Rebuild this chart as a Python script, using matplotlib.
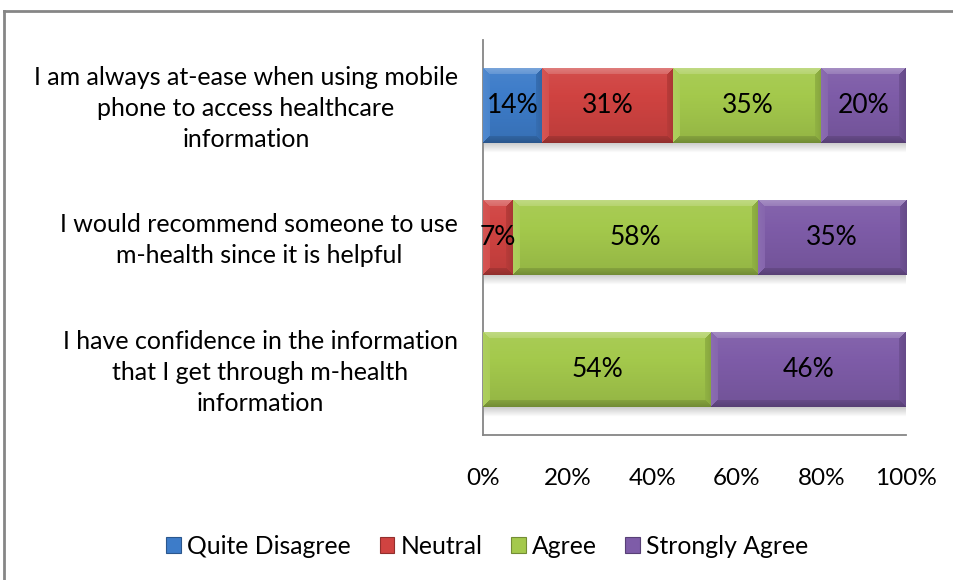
import numpy as np
import matplotlib
matplotlib.use("Agg")
import matplotlib.pyplot as plt
import matplotlib.transforms as mtransforms
from matplotlib.patches import Patch
from matplotlib.lines import Line2D
from matplotlib.colors import to_rgb

# ---- data -------------------------------------------------------------
categories = [
    "I am always at-ease when using mobile\nphone to access healthcare\ninformation",
    "I would recommend someone to use\nm-health since it is helpful",
    "I have confidence in the information\nthat I get through m-health\ninformation",
]
series_names = ["Quite Disagree", "Neutral", "Agree", "Strongly Agree"]
quite_disagree = [14, 0, 0]
neutral = [31, 7, 0]
agree = [35, 58, 54]
strongly_agree = [20, 35, 46]
x_ticks = [0, 20, 40, 60, 80, 100]
x_tick_labels = ["0%", "20%", "40%", "60%", "80%", "100%"]

series_values = [quite_disagree, neutral, agree, strongly_agree]
colors = ["#3D7CC9", "#D04341", "#A4C94C", "#7E5CA8"]

plt.rcParams["font.family"] = ["Lato", "DejaVu Sans"]
FS_CAT = 18
FS_TICK = 17.5
FS_VAL = 19
FS_LEG = 17.8

fig = plt.figure(figsize=(9.54, 5.8), dpi=100)
ax = fig.add_axes([483 / 954, 1 - 435 / 580, (906 - 483) / 954, (435 - 40) / 580])

y = np.arange(len(categories))
bar_h = 0.57
ax.set_xlim(0, 100)
ax.set_ylim(len(categories) - 0.5, -0.5)


def shade(base, s):
    s = s[..., None]
    return np.where(s > 0, base + (1 - base) * s, base * (1 + s))


def bevel_image(color, w, h, b=7):
    """Bevelled fill for a bar of w x h pixels."""
    base = np.array(to_rgb(color))
    yy, xx = np.mgrid[0:h, 0:w].astype(float)
    t = yy / max(h - 1, 1)
    s = 0.06 - 0.16 * t
    dt, db, dl, dr = yy, h - 1 - yy, xx, w - 1 - xx
    d = np.minimum(np.minimum(dt, db), np.minimum(dl, dr))
    band = d < b
    fall = 1 - 0.4 * d / b
    s = np.where(band & (dt == d), 0.32 * fall, s)
    s = np.where(band & (db == d) & (dt != d), -0.30 * fall, s)
    s = np.where(band & (dl == d) & (dt != d) & (db != d), 0.10 * fall, s)
    s = np.where(band & (dr == d) & (dt != d) & (db != d) & (dl != d), -0.18 * fall, s)
    return np.clip(shade(base, s), 0, 1)


left = np.zeros(len(categories))
rect_groups = []
for vals, col in zip(series_values, colors):
    bars = ax.barh(y, vals, left=left, height=bar_h, color=col, edgecolor="none", zorder=3)
    rect_groups.append((bars, vals, col))
    left = left + np.array(vals)

fig.canvas.draw()
to_px = ax.transData

# soft shadow under each stacked bar
shadow = np.zeros((12, 2, 4))
shadow[..., :3] = 0.45
shadow[..., 3] = np.linspace(0.35, 0.0, 12)[:, None]
px_per_unit_y = abs(to_px.transform((0, 1))[1] - to_px.transform((0, 0))[1])
for yi, total in zip(y, left):
    yb = yi + bar_h / 2
    ax.imshow(shadow, extent=(0.3, total, yb + 10 / px_per_unit_y, yb),
              origin="upper", aspect="auto", zorder=2, interpolation="bilinear")

for bars, vals, col in rect_groups:
    for rect, v in zip(bars, vals):
        if v <= 0:
            continue
        x0, w = rect.get_x(), rect.get_width()
        y0, h = rect.get_y(), rect.get_height()
        p0 = to_px.transform((x0, y0))
        p1 = to_px.transform((x0 + w, y0 + h))
        wp = max(int(round(abs(p1[0] - p0[0]))), 2)
        hp = max(int(round(abs(p1[1] - p0[1]))), 2)
        img = bevel_image(col, wp, hp)
        im = ax.imshow(img, extent=(x0, x0 + w, y0 + h, y0), origin="upper",
                       aspect="auto", zorder=4, interpolation="nearest")
        im.set_clip_path(rect)
        ax.text(x0 + w / 2, y0 + h / 2, f"{v}%", ha="center", va="center",
                fontsize=FS_VAL, color="black", zorder=5)

ax.set_xlim(0, 100)
ax.set_ylim(len(categories) - 0.5, -0.5)

ax.set_xticks(x_ticks)
ax.set_xticklabels(x_tick_labels, fontsize=FS_TICK)
ax.set_yticks(y)
ax.set_yticklabels(categories, fontsize=FS_CAT, multialignment="center", linespacing=1.42)
ax.tick_params(axis="x", length=0, pad=24)
ax.tick_params(axis="y", length=0, pad=18)

# nudge category labels slightly upward
lift = mtransforms.ScaledTranslation(0, 3 / 100, fig.dpi_scale_trans)
for lbl in ax.get_yticklabels():
    lbl.set_transform(lbl.get_transform() + lift)

for side in ("top", "right"):
    ax.spines[side].set_visible(False)
for side in ("left", "bottom"):
    ax.spines[side].set_color("#868686")
    ax.spines[side].set_linewidth(1.3)

handles = [Patch(facecolor=c, edgecolor=np.array(to_rgb(c)) * 0.7, linewidth=0.8)
           for c in colors]
fig.legend(handles, series_names, loc="center", bbox_to_anchor=(0.511, 1 - 546 / 580),
           ncol=4, frameon=False, fontsize=FS_LEG, handlelength=0.6, handleheight=0.6,
           handletextpad=0.25, columnspacing=1.15)

# chart-area frame
fig.add_artist(Line2D([4.5 / 954, 1.0], [1 - 11 / 580, 1 - 11 / 580],
                      color="#868686", lw=2.0, transform=fig.transFigure))
fig.add_artist(Line2D([4.5 / 954, 4.5 / 954], [0.0, 1 - 11 / 580],
                      color="#868686", lw=2.0, transform=fig.transFigure))

fig.savefig("out.png", dpi=100)
